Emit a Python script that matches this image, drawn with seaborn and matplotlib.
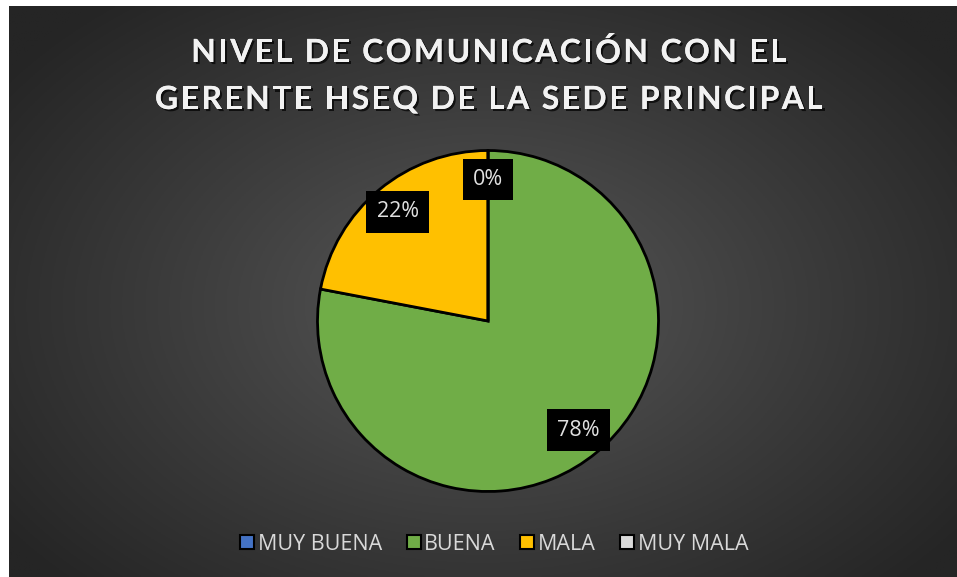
import numpy as np
import matplotlib
matplotlib.use("Agg")
import matplotlib.pyplot as plt
import matplotlib.patheffects as pe
from matplotlib.lines import Line2D
import seaborn as sns

sns.set_theme(style="white")
plt.rcParams['font.family'] = ['Open Sans', 'DejaVu Sans']

# ---- data ----
categories = ["MUY BUENA", "BUENA", "MALA", "MUY MALA"]
values = [0, 78, 22, 0]
pct_labels = ["0%", "78%", "22%", "0%"]
title_lines = ["NIVEL DE COMUNICACIÓN CON EL", "GERENTE HSEQ DE LA SEDE PRINCIPAL"]

colors = sns.color_palette(["#4472C4", "#70AD47", "#FFC000", "#D9D9D9"])

W, H = 957, 577
fig = plt.figure(figsize=(W / 100, H / 100), dpi=100)
fig.patch.set_facecolor("white")

# background panel with radial gradient
bx0, by_top = 9, 6
bg = fig.add_axes([bx0 / W, 0, 1 - bx0 / W, 1 - by_top / H])
bg.set_axis_off()
nx, ny = 400, 240
xx, yy = np.meshgrid(np.linspace(-1, 1, nx), np.linspace(-1, 1, ny))
cy = 0.05
r = np.sqrt(xx ** 2 + ((yy - cy) * 0.9) ** 2)
r = np.clip(r / 1.25, 0, 1)
c_in, c_out = 0x5A / 255, 0x25 / 255
img = c_in + (c_out - c_in) * r ** 0.9
bg.imshow(np.dstack([img, img, img]), extent=[0, 1, 0, 1], aspect="auto", origin="upper")
bg.set_xlim(0, 1)
bg.set_ylim(0, 1)

# title with letter spacing (Excel style)
renderer = fig.canvas.get_renderer()
tprops = dict(fontsize=23, fontweight="bold", family=["Lato", "DejaVu Sans"], color="#F2F2F2")
shadow = [pe.withSimplePatchShadow(offset=(1.5, -1.5), shadow_rgbFace="black", alpha=0.7), pe.Normal()]


def prefix_width(s):
    if not s:
        return 0.0
    t = fig.text(0, 0, s.replace(" ", "\u00a0"), **tprops)
    w = t.get_window_extent(renderer).width
    t.remove()
    return w


def spaced_line(s, xc, yc, spacing):
    adv = [prefix_width(s[:i]) for i in range(len(s) + 1)]
    total = adv[-1] + spacing * (len(s) - 1)
    x0 = xc - total / 2
    for i, ch in enumerate(s):
        if ch == " ":
            continue
        fig.text((x0 + adv[i] + i * spacing) / W, 1 - yc / H, ch, ha="left", va="center_baseline",
                 path_effects=shadow, **tprops)


nat2 = prefix_width(title_lines[1])
spacing = (668 - nat2) / (len(title_lines[1]) - 1)
spaced_line(title_lines[0], 489, 50, spacing)
spaced_line(title_lines[1], 489, 97, spacing)

# pie
cx, cyp, rad = 488, 321, 170.5
ax = fig.add_axes([(cx - rad) / W, 1 - (cyp + rad) / H, 2 * rad / W, 2 * rad / H])
ax.set_axis_off()
wedges, _ = ax.pie(values, colors=colors, startangle=90, counterclock=False,
                   wedgeprops=dict(edgecolor="black", linewidth=2.0, clip_on=False), radius=1)
ax.set_xlim(-1, 1)
ax.set_ylim(-1, 1)

seen = set()
for w, lab in zip(wedges, pct_labels):
    ang = np.deg2rad((w.theta1 + w.theta2) / 2)
    d = 0.83
    key = (round(np.cos(ang) * d, 3), round(np.sin(ang) * d, 3))
    if key in seen:
        continue
    seen.add(key)
    ax.text(key[0], key[1], lab, ha="center", va="center", fontsize=15.5, color="#E0E0E0",
            bbox=dict(boxstyle="square,pad=0.48", facecolor="black", edgecolor="none"))

# legend
handles = [Line2D([0], [0], marker="s", linestyle="none", markersize=10,
                  markerfacecolor=c, markeredgecolor="black", markeredgewidth=1.5)
           for c in colors]
fig.legend(handles, categories, loc="center", bbox_to_anchor=(493 / W, 1 - 544 / H), ncol=4,
           frameon=False, fontsize=15.5, labelcolor="#D9D9D9", handletextpad=0.05,
           columnspacing=1.0, handlelength=0.9)

fig.savefig("out.png", dpi=100, facecolor="white")
